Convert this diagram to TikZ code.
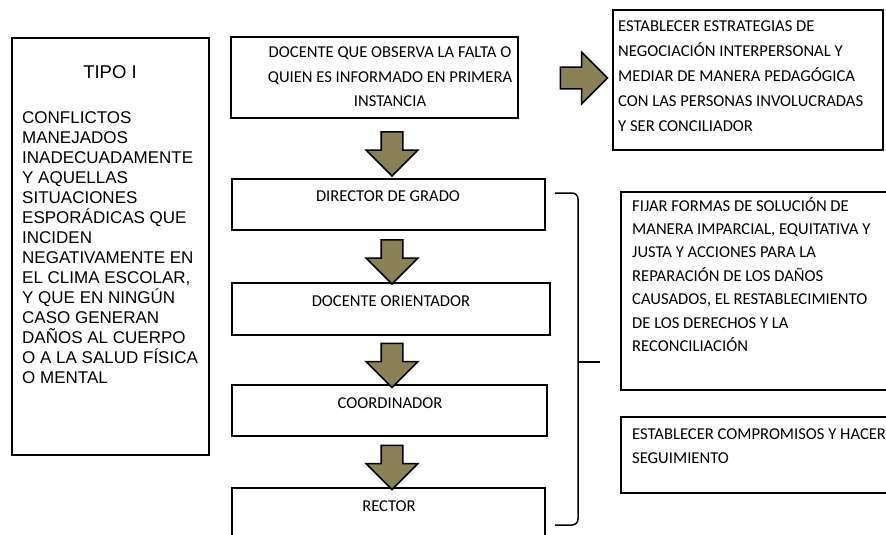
\documentclass[tikz,border=0pt]{standalone}
\usepackage{fontspec}
\usepackage{xcolor}
\newfontfamily\arialfont{Liberation Sans}
\newfontfamily\califont{Carlito}
\usetikzlibrary{shapes.arrows}
\definecolor{olivefill}{RGB}{139,129,86}

\begin{document}
\begin{tikzpicture}[x=1pt,y=-1pt]
        \tikzstyle{box}=[draw=black,rectangle,line width=1.8pt,inner sep=0pt]
        \tikzstyle{thinbox}=[draw=black,rectangle,line width=1.1pt,inner sep=0pt]
        \tikzstyle{fatarrow}=[draw=black,fill=olivefill,single arrow,line width=1.6pt,single arrow head extend=15pt,minimum height=44pt,inner xsep=0pt,inner ysep=10pt]
        \tikzstyle{downarrow}=[fatarrow,rotate=-90]
        \tikzstyle{midtxt}=[inner sep=0pt,align=center,anchor=base,font=\califont\fontsize{16.6}{24}\selectfont]
        \tikzstyle{sidetxt}=[inner sep=0pt,align=left,anchor=base west,font=\califont\fontsize{16.6}{24}\selectfont]
        \tikzstyle{lefttxt}=[inner sep=0pt,align=left,anchor=base west,font=\arialfont\fontsize{17}{20}\selectfont]
        \tikzstyle{brace}=[draw=black,line width=1.5pt,rounded corners=6pt]

        \useasboundingbox (0,0) rectangle (886,535);
        \clip (0,0) rectangle (886,535);

        % left column (text nodes sit on the baseline of their last line)
        \draw node at (110.5,246.5) [box,minimum width=197pt,minimum height=417pt] (tipo) {};
        \draw node at (110,78) [lefttxt,anchor=base] (tipotxt) {\fontsize{18.5}{20}\selectfont TIPO I};
        \draw node at (22,383) [lefttxt] (desctxt) {CONFLICTOS\\MANEJADOS\\INADECUADAMENTE\\Y AQUELLAS\\SITUACIONES\\ESPORÁDICAS QUE\\INCIDEN\\NEGATIVAMENTE EN\\EL CLIMA ESCOLAR,\\Y QUE EN NINGÚN\\CASO GENERAN\\DAÑOS AL CUERPO\\O A LA SALUD FÍSICA\\O MENTAL};

        % middle column
        \draw node at (374.5,77.5) [box,minimum width=287pt,minimum height=81pt] (docente) {};
        \draw node at (390,106) [midtxt] (docentetxt) {DOCENTE QUE OBSERVA LA FALTA O\\QUIEN ES INFORMADO EN PRIMERA\\INSTANCIA};
        \draw node at (388.5,204.5) [box,minimum width=313pt,minimum height=51pt] (director) {};
        \draw node at (388,201) [midtxt] (directortxt) {DIRECTOR DE GRADO};
        \draw node at (391,309) [box,minimum width=318pt,minimum height=52pt] (orientador) {};
        \draw node at (391,306) [midtxt] (orientadortxt) {DOCENTE ORIENTADOR};
        \draw node at (389.5,410.5) [box,minimum width=315pt,minimum height=51pt] (coordinador) {};
        \draw node at (390,408) [midtxt] (coordinadortxt) {COORDINADOR};
        \draw node at (388.5,516.5) [box,minimum width=313pt,minimum height=57pt] (rector) {};
        \draw node at (389,511) [midtxt] (rectortxt) {RECTOR};

        % block arrows
        \draw node at (392,148.5) [downarrow] (a1) {};
        \draw node at (392,256.5) [downarrow] (a2) {};
        \draw node at (392,360) [downarrow] (a3) {};
        \draw node at (392,462) [downarrow] (a4) {};
        \draw node at (578.5,78) [fatarrow,minimum height=47pt] (a0) {};

        % right column
        \draw node at (748,80) [thinbox,minimum width=270pt,minimum height=140pt] (mediar) {};
        \draw node at (618,131) [sidetxt,font=\califont\fontsize{16.6}{25}\selectfont] (mediartxt) {ESTABLECER ESTRATEGIAS DE\\NEGOCIACIÓN INTERPERSONAL Y\\MEDIAR DE MANERA PEDAGÓGICA\\CON LAS PERSONAS INVOLUCRADAS\\Y SER CONCILIADOR};
        \draw node at (755.5,291) [box,minimum width=269pt,minimum height=198pt] (fijar) {};
        \draw node at (632,351.4) [sidetxt,font=\califont\fontsize{16.6}{23.4}\selectfont] (fijartxt) {FIJAR FORMAS DE SOLUCIÓN DE\\MANERA IMPARCIAL, EQUITATIVA Y\\JUSTA Y ACCIONES PARA LA\\REPARACIÓN DE LOS DAÑOS\\CAUSADOS, EL RESTABLECIMIENTO\\DE LOS DERECHOS Y LA\\RECONCILIACIÓN};
        \draw node at (755.5,455) [box,minimum width=269pt,minimum height=76pt] (compromisos) {};
        \draw node at (632,463) [sidetxt] (compromisostxt) {ESTABLECER COMPROMISOS Y HACER\\SEGUIMIENTO};

        % brace
        \coordinate (bracetop) at (555,193);
        \coordinate (bracemid) at (578,362);
        \coordinate (bracetip) at (600,362);
        \coordinate (bracebot) at (555,525);
        \draw [brace] (bracetop) -| (bracemid) |- (bracebot);
        \draw [brace] (bracemid) -- (bracetip);
    \end{tikzpicture}
\end{document}
